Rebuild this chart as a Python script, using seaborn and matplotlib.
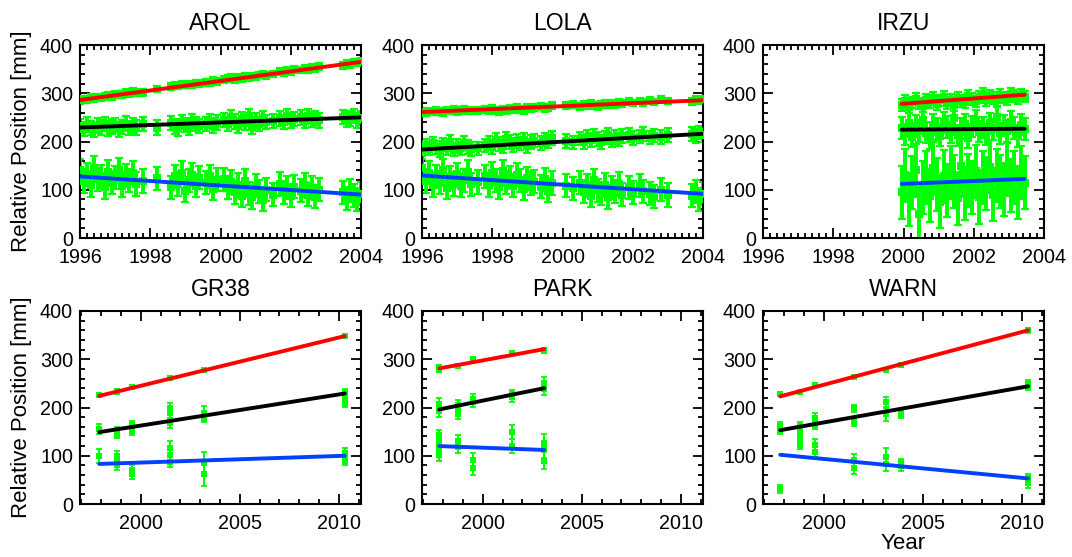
import matplotlib
matplotlib.use("Agg")
import matplotlib.pyplot as plt
from matplotlib.ticker import MultipleLocator
import seaborn as sns
import pandas as pd

# ---------------- data: top row (dense daily series) ----------------
arol_t = [1996.0, 1996.1, 1996.2, 1996.3, 1996.4, 1996.5, 1996.6, 1996.7, 1996.8, 1996.9,
          1997.0, 1997.1, 1997.2, 1997.3, 1997.4, 1997.5, 1997.6, 1997.8, 1998.2,
          1998.6, 1998.7, 1998.8, 1998.9, 1999.0, 1999.1, 1999.2, 1999.3, 1999.4,
          1999.6, 1999.7, 1999.8, 1999.9,
          2000.1, 2000.2, 2000.3, 2000.4, 2000.5, 2000.6, 2000.7, 2000.8, 2000.9, 2001.0,
          2001.1, 2001.2, 2001.3, 2001.5,
          2001.7, 2001.8, 2001.9, 2002.0, 2002.1,
          2002.3, 2002.4, 2002.5, 2002.6, 2002.7, 2002.8,
          2003.5, 2003.6, 2003.7, 2003.8, 2003.9, 2004.0]
arol_red = [285, 288, 287, 291, 289, 292, 290, 294, 296, 294, 297, 298, 297, 301, 300, 303, 301,
            302, 309,
            314, 316, 315, 318, 317, 319, 317, 321, 320,
            323, 322, 326, 325,
            329, 331, 333, 329, 332, 330, 334, 332, 336, 334, 338, 339, 337,
            340,
            345, 343, 347, 345, 349,
            348, 352, 350, 354, 352, 355,
            358, 362, 360, 364, 363, 366]
arol_black = [232, 226, 235, 228, 224, 233, 229, 236, 227, 231, 234, 225, 230, 237, 228, 233, 229,
              236, 229,
              238, 231, 227, 240, 234, 229, 242, 236, 232,
              236, 243, 233, 239,
              245, 236, 250, 241, 233, 247, 239, 252, 231, 244, 236, 248, 240,
              243,
              248, 240, 252, 244, 247,
              250, 243, 253, 246, 249, 244,
              251, 246, 248, 253, 244, 249]
arol_blue = [140, 118, 132, 110, 145, 122, 128, 105, 137, 115, 126, 141, 108, 130, 119, 135, 112,
             118, 124,
             105, 128, 112, 135, 98, 120, 131, 108, 125,
             115, 128, 102, 121,
             122, 104, 116, 95, 110, 88, 118, 92, 84, 108, 96, 79, 100,
             90,
             112, 95, 104, 88, 106,
             98, 110, 90, 104, 86, 100,
             95, 82, 98, 88, 80, 92]
arol_err = [7, 15, 24]
arol_trend_t = [1996.0, 2004.0]
arol_trend_red = [286, 365]
arol_trend_black = [229, 250]
arol_trend_blue = [127.5, 90]

lola_t = [1996.0, 1996.1, 1996.2, 1996.3, 1996.4, 1996.5, 1996.6, 1996.7, 1996.8, 1996.9,
          1997.0, 1997.1, 1997.2, 1997.3, 1997.4, 1997.6,
          1997.8, 1997.9, 1998.0, 1998.1, 1998.2, 1998.3, 1998.4, 1998.5, 1998.6, 1998.7,
          1998.8, 1998.9, 1999.0, 1999.1, 1999.2,
          1999.4, 1999.5, 1999.6, 1999.7,
          2000.1, 2000.3,
          2000.5, 2000.6, 2000.7, 2000.8, 2000.9, 2001.0, 2001.1, 2001.2, 2001.3, 2001.4,
          2001.5, 2001.6, 2001.7,
          2001.9, 2002.0, 2002.2, 2002.3, 2002.5, 2002.6, 2002.8, 2003.0,
          2003.7, 2003.8, 2003.9, 2004.0]
lola_red = [262, 259, 263, 261, 264, 262, 260, 265, 263, 266, 262, 264, 267, 263, 265, 264,
            266, 263, 268, 265, 262, 267, 264, 269, 266, 270, 267, 265, 271, 268, 270,
            272, 269, 271, 274,
            274, 276,
            272, 276, 274, 278, 275, 273, 277, 279, 276, 280, 277, 281, 278,
            283, 280, 284, 281, 285, 282, 287, 284,
            283, 287, 285, 288]
lola_black = [178, 192, 185, 196, 188, 181, 194, 187, 199, 183, 191, 186, 197, 189, 184, 186,
              192, 197, 188, 203, 195, 190, 206, 199, 193, 201, 196, 204, 191, 199, 202,
              197, 204, 200, 207,
              201, 198,
              206, 199, 210, 203, 212, 205, 199, 208, 214, 202, 209, 204, 211,
              213, 207, 210, 216, 208, 212, 209, 214,
              216, 211, 219, 214]
lola_blue = [145, 118, 135, 109, 128, 115, 140, 104, 126, 112, 132, 108, 120, 137, 111, 116,
             128, 110, 134, 120, 105, 138, 115, 125, 108, 131, 119, 102, 124, 113, 117,
             106, 122, 98, 114,
             108, 103,
             115, 96, 108, 88, 120, 99, 92, 110, 85, 104, 96, 112, 90,
             105, 94, 108, 97, 92, 86, 100, 89,
             88, 97, 80, 92]
lola_err = [7, 14, 24]
lola_trend_t = [1996.0, 2004.0]
lola_trend_red = [261, 285.5]
lola_trend_black = [183.5, 216]
lola_trend_blue = [129.5, 91.5]

irzu_t = [1999.95, 2000.05, 2000.15, 2000.25, 2000.35, 2000.45, 2000.55, 2000.65, 2000.75,
          2000.85, 2000.95, 2001.05, 2001.15, 2001.25, 2001.35, 2001.45, 2001.55, 2001.65,
          2001.75, 2001.85, 2001.95, 2002.05, 2002.15, 2002.25, 2002.35, 2002.45, 2002.55,
          2002.65, 2002.75, 2002.85, 2002.95, 2003.05, 2003.15, 2003.25, 2003.35, 2003.45]
irzu_red = [276, 284, 272, 281, 288, 279, 274, 286, 282, 291, 278, 285, 293, 280, 287, 276, 290, 284,
            281, 295, 288, 283, 292, 298, 286, 294, 290, 285, 297, 291, 288, 299, 294, 290, 296, 293]
irzu_black = [228, 215, 238, 210, 232, 222, 245, 218, 206, 235, 226, 212, 240, 230, 219, 248, 213, 227,
              236, 208, 231, 244, 220, 229, 214, 238, 225, 250, 217, 233, 222, 241, 228, 211, 235, 226]
irzu_blue = [95, 130, 80, 115, 140, 50, 105, 125, 88, 145, 110, 75, 128, 98, 135, 118, 82, 150,
             92, 120, 105, 138, 85, 125, 112, 148, 90, 130, 118, 100, 142, 108, 125, 95, 135, 115]
irzu_err = [12, 22, 55]
irzu_trend_t = [1999.95, 2003.45]
irzu_trend_red = [278, 297]
irzu_trend_black = [224.5, 226.5]
irzu_trend_blue = [112, 122.5]

# ---------------- data: bottom row (campaign epochs) ----------------
gr38_red_t = [1997.9, 1998.8, 1998.8, 1999.55, 2001.5, 2003.2, 2010.3]
gr38_red = [225, 234, 232, 243, 261, 277, 349]
gr38_red_err = [2, 3, 3, 3, 2, 4, 3]
gr38_black_t = [1997.9, 1998.8, 1998.8, 1999.55, 1999.55, 2001.5, 2001.5, 2001.5,
                2003.2, 2003.2, 2010.3, 2010.3, 2010.3]
gr38_black = [156, 151, 144, 163, 152, 200, 189, 168, 189, 179, 231, 217, 210]
gr38_black_err = [10, 8, 8, 10, 10, 10, 10, 10, 14, 10, 8, 8, 8]
gr38_blue_t = [1997.9, 1998.8, 1998.8, 1998.8, 1999.55, 1999.55, 2001.5, 2001.5, 2001.5,
               2003.2, 2003.2, 2010.3, 2010.3, 2010.3]
gr38_blue = [100, 99, 87, 81, 71, 62, 116, 102, 88, 85, 62, 106, 97, 90]
gr38_blue_err = [14, 10, 10, 10, 10, 10, 15, 12, 12, 22, 25, 10, 10, 10]
gr38_trend_t = [1997.9, 2010.3]
gr38_trend_red = [224, 348]
gr38_trend_black = [149, 229]
gr38_trend_blue = [83, 100]

park_red_t = [1997.8, 1997.8, 1998.77, 1999.53, 2001.5, 2003.1, 2003.1]
park_red = [283, 278, 287, 300, 312, 320, 317]
park_red_err = [3, 3, 3, 3, 3, 3, 3]
park_black_t = [1997.8, 1997.8, 1997.8, 1998.77, 1998.77, 1998.77, 1999.53, 1999.53,
                2001.5, 2001.5, 2003.1, 2003.1]
park_black = [207, 200, 193, 205, 194, 186, 217, 212, 227, 222, 251, 238]
park_black_err = [12, 12, 12, 10, 10, 10, 10, 10, 10, 10, 12, 12]
park_blue_t = [1997.8, 1997.8, 1997.8, 1997.8, 1997.8, 1998.77, 1998.77, 1999.53, 1999.53,
               2001.5, 2001.5, 2003.1, 2003.1, 2003.1]
park_blue = [142, 130, 123, 113, 102, 130, 118, 92, 74, 149, 120, 127, 113, 90]
park_blue_err = [12, 12, 12, 12, 12, 12, 12, 14, 14, 14, 14, 18, 18, 18]
park_trend_t = [1997.8, 2003.1]
park_trend_red = [281, 321]
park_trend_black = [196, 240]
park_trend_blue = [120, 112]

warn_red_t = [1997.8, 1998.78, 1999.54, 2001.52, 2003.14, 2003.92, 2010.32]
warn_red = [228, 233, 246, 264, 278, 289, 360]
warn_red_err = [2, 4, 4, 4, 4, 3, 5]
warn_black_t = [1997.8, 1997.8, 1998.78, 1998.78, 1999.54, 1999.54, 2001.52, 2001.52,
                2003.14, 2003.14, 2003.92, 2010.32, 2010.32]
warn_black = [161, 154, 161, 151, 179, 163, 198, 170, 212, 186, 187, 248, 245]
warn_black_err = [8, 8, 8, 8, 10, 8, 8, 8, 10, 14, 8, 8, 8]
warn_blue_t = [1997.8, 1998.78, 1998.78, 1998.78, 1999.54, 1999.54, 2001.52, 2001.52,
               2003.14, 2003.14, 2003.92, 2003.92, 2010.32, 2010.32]
warn_blue = [31, 135, 128, 123, 123, 108, 91, 74, 98, 82, 84, 78, 53, 43]
warn_blue_err = [9, 12, 10, 10, 12, 10, 12, 12, 18, 14, 10, 10, 10, 10]
warn_trend_t = [1997.8, 2010.32]
warn_trend_red = [223, 360]
warn_trend_black = [153, 244]
warn_trend_blue = [102, 53]

titles = ["AROL", "LOLA", "IRZU", "GR38", "PARK", "WARN"]

# ---------------- style ----------------
sns.set_theme(style="ticks")
plt.rcParams["font.family"] = ["Liberation Sans", "DejaVu Sans"]
plt.rcParams["axes.linewidth"] = 1.5
plt.rcParams["text.color"] = "black"
plt.rcParams["axes.labelcolor"] = "black"
plt.rcParams["axes.titlecolor"] = "black"

GREEN = "#00ff00"
LINE_COLORS = ["#ff0000", "#000000", "#0040ff"]

W, H = 1072, 557
fig = plt.figure(figsize=(W / 100, H / 100), dpi=100)

lefts = [80, 422, 763]
tops = [45, 311]
aw, ah = 281, 193


def make_ax(col, row):
    l = lefts[col]
    t = tops[row]
    return fig.add_axes([l / W, 1 - (t + ah) / H, aw / W, ah / H])


def style_ax(ax, top_row):
    ax.set_ylim(0, 400)
    ax.yaxis.set_major_locator(MultipleLocator(100))
    ax.yaxis.set_minor_locator(MultipleLocator(20))
    if top_row:
        ax.set_xlim(1996, 2004)
        ax.xaxis.set_major_locator(MultipleLocator(2))
        ax.xaxis.set_minor_locator(MultipleLocator(0.2))
    else:
        ax.set_xlim(1996.93, 2011.12)
        ax.xaxis.set_major_locator(MultipleLocator(5))
        ax.xaxis.set_minor_locator(MultipleLocator(1))
    ax.tick_params(which="both", direction="in", top=True, right=True,
                   labelsize=14.2, colors="black", width=1.3)
    ax.tick_params(axis="y", which="both", pad=5)
    ax.tick_params(axis="x", which="both", pad=7.5)
    ax.tick_params(which="major", length=7)
    ax.tick_params(which="minor", length=3.5)
    for s in ax.spines.values():
        s.set_visible(True)
        s.set_linewidth(1.5)
        s.set_color("black")
    ax.set_xlabel("")
    ax.set_ylabel("")


def draw_series(ax, t, y, err, trend_t, trend_y, color, dense):
    if dense:
        ax.errorbar(t, y, yerr=err, fmt="none", ecolor=GREEN, elinewidth=2.8,
                    capsize=3, capthick=1.6, zorder=2)
        sns.scatterplot(x=t, y=y, ax=ax, color=GREEN, marker="s", s=32,
                        linewidth=0, zorder=3, legend=False)
    else:
        ax.errorbar(t, y, yerr=err, fmt="none", ecolor=GREEN, elinewidth=1.4,
                    capsize=2.5, capthick=1.3, zorder=2)
        sns.scatterplot(x=t, y=y, ax=ax, color=GREEN, marker="s", s=16,
                        linewidth=0, zorder=3, legend=False)
    df = pd.DataFrame({"t": trend_t, "y": trend_y})
    sns.lineplot(data=df, x="t", y="y", ax=ax, color=color, linewidth=2.8,
                 zorder=4, legend=False)


top_sets = [
    (arol_t, [arol_red, arol_black, arol_blue], arol_err, arol_trend_t,
     [arol_trend_red, arol_trend_black, arol_trend_blue]),
    (lola_t, [lola_red, lola_black, lola_blue], lola_err, lola_trend_t,
     [lola_trend_red, lola_trend_black, lola_trend_blue]),
    (irzu_t, [irzu_red, irzu_black, irzu_blue], irzu_err, irzu_trend_t,
     [irzu_trend_red, irzu_trend_black, irzu_trend_blue]),
]
bottom_sets = [
    ([gr38_red_t, gr38_black_t, gr38_blue_t], [gr38_red, gr38_black, gr38_blue],
     [gr38_red_err, gr38_black_err, gr38_blue_err], gr38_trend_t,
     [gr38_trend_red, gr38_trend_black, gr38_trend_blue]),
    ([park_red_t, park_black_t, park_blue_t], [park_red, park_black, park_blue],
     [park_red_err, park_black_err, park_blue_err], park_trend_t,
     [park_trend_red, park_trend_black, park_trend_blue]),
    ([warn_red_t, warn_black_t, warn_blue_t], [warn_red, warn_black, warn_blue],
     [warn_red_err, warn_black_err, warn_blue_err], warn_trend_t,
     [warn_trend_red, warn_trend_black, warn_trend_blue]),
]

for i, (t, ys, errs, tt, trends) in enumerate(top_sets):
    ax = make_ax(i, 0)
    for y, e, tr, c in zip(ys, errs, trends, LINE_COLORS):
        draw_series(ax, t, y, e, tt, tr, c, True)
    style_ax(ax, True)
    ax.set_title(titles[i], fontsize=16.5, pad=11, color="black")
    if i == 0:
        ax.set_ylabel("Relative Position [mm]", fontsize=16, labelpad=6)

for i, (ts, ys, errs, tt, trends) in enumerate(bottom_sets):
    ax = make_ax(i, 1)
    for t, y, e, tr, c in zip(ts, ys, errs, trends, LINE_COLORS):
        draw_series(ax, t, y, e, tt, tr, c, False)
    style_ax(ax, False)
    ax.set_title(titles[3 + i], fontsize=16.5, pad=11, color="black")
    if i == 0:
        ax.set_ylabel("Relative Position [mm]", fontsize=16, labelpad=6)
    if i == 2:
        ax.set_xlabel("Year", fontsize=16, labelpad=0)

fig.savefig("out.png", dpi=100)
